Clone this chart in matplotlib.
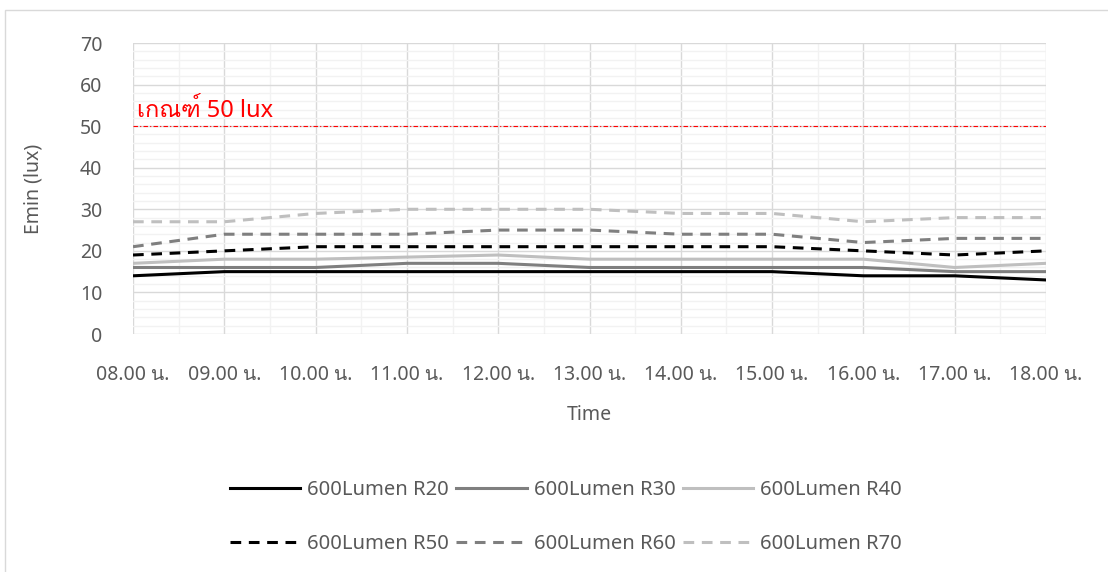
import matplotlib
matplotlib.use('Agg')
import matplotlib.pyplot as plt
from matplotlib import font_manager
from matplotlib.ft2font import FT2Font
from matplotlib.patches import Rectangle

# data
times = ['08.00 น.', '09.00 น.', '10.00 น.', '11.00 น.', '12.00 น.', '13.00 น.',
         '14.00 น.', '15.00 น.', '16.00 น.', '17.00 น.', '18.00 น.']
r20 = [14, 15, 15, 15, 15, 15, 15, 15, 14, 14, 13]
r30 = [16, 16, 16, 17, 17, 16, 16, 16, 16, 15, 15]
r40 = [17, 18, 18, 18.5, 19, 18, 18, 18, 18, 16, 17]
r50 = [19, 20, 21, 21, 21, 21, 21, 21, 20, 19, 20]
r60 = [21, 24, 24, 24, 25, 25, 24, 24, 22, 23, 23]
r70 = [27, 27, 29, 30, 30, 30, 29, 29, 27, 28, 28]
criterion = 50
y_ticks = [0, 10, 20, 30, 40, 50, 60, 70]

# find an installed font that has Thai glyphs
thai_font = None
for f in font_manager.fontManager.ttflist:
    try:
        if ord('น') in FT2Font(f.fname).get_charmap():
            thai_font = f.name
            break
    except Exception:
        pass
families = ['Noto Sans']
if thai_font:
    families.append(thai_font)
families.append('DejaVu Sans')
plt.rcParams['font.family'] = families

txt = '#595959'
fig = plt.figure(figsize=(11.08, 5.72), dpi=100)
ax = fig.add_axes([133/1108, 1-334/572, 913/1108, 291/572])

x = list(range(len(times)))
lw = 2.2
h20, = ax.plot(x, r20, color='black', lw=lw, label='600Lumen R20')
h30, = ax.plot(x, r30, color='#7f7f7f', lw=lw, label='600Lumen R30')
h40, = ax.plot(x, r40, color='#bfbfbf', lw=lw, label='600Lumen R40')
h50, = ax.plot(x, r50, color='black', lw=lw, dashes=(3.5, 2.5), label='600Lumen R50')
h60, = ax.plot(x, r60, color='#7f7f7f', lw=lw, dashes=(3.5, 2.5), label='600Lumen R60')
h70, = ax.plot(x, r70, color='#bfbfbf', lw=lw, dashes=(3.5, 2.5), label='600Lumen R70')

ax.axhline(criterion, color='red', lw=0.8, ls='-.', dashes=(4, 2, 1, 2))
ax.annotate('เกณฑ์ 50 lux', xy=(0.04, criterion), xytext=(0, 2), textcoords='offset points',
            color='red', fontsize=17, va='bottom', ha='left')

ax.set_xlim(0, len(times)-1)
ax.set_ylim(0, 70)
ax.set_xticks(x)
ax.set_xticklabels(times)
ax.set_yticks(y_ticks)
ax.set_xticks([i + 0.5 for i in x[:-1]], minor=True)
ax.set_yticks(range(0, 71, 2), minor=True)
ax.grid(which='minor', color='#f2f2f2', lw=1.0)
ax.grid(which='major', color='#d9d9d9', lw=1.0)
ax.set_axisbelow(True)
for s in ax.spines.values():
    s.set_visible(False)
ax.tick_params(which='both', length=0, colors=txt, labelsize=14)
ax.tick_params(axis='x', pad=22)
ax.tick_params(axis='y', pad=22)

ax.set_xlabel('Time', color=txt, fontsize=14)
ax.set_ylabel('Emin (lux)', color=txt, fontsize=14)
ax.xaxis.set_label_coords(0.5, (334-415)/291)
ax.yaxis.set_label_coords((33-133)/913, 0.5)
ax.xaxis.label.set_va('center')
ax.yaxis.label.set_va('center')

# legend is filled column by column
handles = [h20, h50, h30, h60, h40, h70]
leg = ax.legend(handles=handles, labels=[h.get_label() for h in handles], ncol=3,
                loc='center', bbox_to_anchor=(566/1108, 1-517/572), bbox_transform=fig.transFigure,
                frameon=False, fontsize=14.5, handlelength=3.5, handletextpad=0.35,
                columnspacing=0.35, labelspacing=1.7)
for t in leg.get_texts():
    t.set_color(txt)

fig.patches.append(Rectangle((5/1108, -0.1), 1.2, 1.1 - 10/572, transform=fig.transFigure,
                             fill=False, edgecolor='#d9d9d9', lw=1.0))

fig.savefig('out.png', dpi=100)
